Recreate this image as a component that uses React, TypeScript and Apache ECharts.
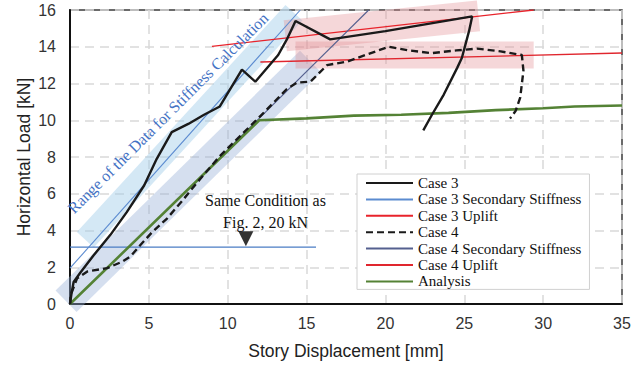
import React, { useEffect, useRef } from "react";
import * as echarts from "echarts";

// ---- data ----
const case3X = [0, 0.1, 0.23, 0.65, 1.5, 2.55, 3.6, 4.7, 5.5, 6.45, 7.5, 8.5, 9.5, 10.9, 11.75, 13.2, 13.75, 14.3, 16.5, 20, 25.5, 25.3, 24.85, 24.55, 23.7, 22.95, 22.4];
const case3Y = [0, 0.6, 1.2, 1.7, 2.65, 3.75, 5.0, 6.45, 7.9, 9.35, 9.8, 10.3, 10.75, 12.75, 12.1, 13.55, 14.4, 15.4, 14.4, 14.85, 15.65, 14.85, 13.4, 12.85, 11.4, 10.3, 9.45];

const case4X = [0, 0.05, 0.45, 1.1, 2.35, 3.3, 3.85, 4.45, 5.2, 6.15, 7.1, 8.05, 9.5, 10.8, 12.1, 13.75, 14.4, 15.25, 16.3, 17.6, 20.2, 21.5, 22.9, 24.5, 25.8, 27.3, 28.65, 28.75, 28.55, 28.25, 27.9];
const case4Y = [0, 0.5, 1.4, 1.77, 1.95, 2.3, 2.6, 3.2, 3.9, 4.65, 5.6, 6.6, 8.05, 9.15, 10.25, 11.7, 12.05, 12.1, 13.0, 13.2, 14.0, 13.8, 13.65, 13.8, 13.9, 13.75, 13.55, 12.7, 11.25, 10.5, 10.1];

const analysisX = [0, 12, 15, 18, 21, 24, 27, 30, 32, 35];
const analysisY = [0, 10, 10.1, 10.25, 10.3, 10.4, 10.55, 10.65, 10.75, 10.8];

const case3StiffX = [0, 14.6];
const case3StiffY = [1.95, 16];
const case3UpliftX = [9.0, 29.4];
const case3UpliftY = [14.02, 16.0];
const case4StiffX = [10.3, 18.94];
const case4StiffY = [8.66, 16];
const case4UpliftX = [12.07, 35];
const case4UpliftY = [13.17, 13.66];

const refLineX = [0, 15.6];
const refLineY = [3.1, 3.1];
const refMarker = [11.15, 3.55];

// shaded ranges (centre lines)
const blueBandX = [0.97, 14.2];
const blueBandY = [3.5, 15.85];
const lavBandX = [-0.25, 15.25];
const lavBandY = [0.15, 13.2];
const pinkBand1X = [13.65, 25.9];
const pinkBand1Y = [14.6, 15.68];
const pinkBand2X = [14.3, 29.4];
const pinkBand2Y = [13.55, 13.55];

const xTicks = { min: 0, max: 35, interval: 5 };
const yTicks = { min: 0, max: 16, interval: 2 };

const legendNames = [
  "Case 3",
  "Case 3 Secondary Stiffness",
  "Case 3 Uplift",
  "Case 4",
  "Case 4 Secondary Stiffness",
  "Case 4 Uplift",
  "Analysis",
];

const zip = (xs: number[], ys: number[]) => xs.map((x, i) => [x, ys[i]]);

const SANS = "Liberation Sans";
const SERIF = "Liberation Serif";

export default function App() {
  const ref = useRef<HTMLDivElement>(null);
  useEffect(() => {
    if (!ref.current) return;
    const chart = echarts.init(ref.current, undefined, { renderer: "svg" });

    const band = (name: string, xs: number[], ys: number[], color: string, width: number, clip: boolean) => ({
      name,
      type: "line",
      data: zip(xs, ys),
      symbol: "none",
      silent: true,
      clip,
      z: 1,
      lineStyle: { color, width, cap: "butt" },
    });

    const line = (name: string, xs: number[], ys: number[], color: string, width: number, type: any = "solid", z = 3) => ({
      name,
      type: "line",
      data: zip(xs, ys),
      symbol: "none",
      z,
      itemStyle: { color },
      lineStyle: { color, width, type },
    });

    chart.setOption({
      animation: false,
      backgroundColor: "#fff",
      grid: {
        left: 70,
        right: 20,
        top: 10,
        bottom: 59,
        show: true,
        borderColor: "#3a3a3a",
        borderWidth: 1.5,
      },
      xAxis: {
        type: "value",
        ...xTicks,
        name: "Story Displacement [mm]",
        nameLocation: "middle",
        nameGap: 38,
        nameTextStyle: { fontFamily: SANS, fontSize: 17.5, color: "#222" },
        axisLine: { show: true, onZero: false, lineStyle: { color: "#111", width: 2 } },
        axisTick: { show: false },
        axisLabel: { fontFamily: SANS, fontSize: 16, color: "#333", margin: 11 },
        splitLine: { show: true, lineStyle: { color: "#d9d9d9", width: 1.5, type: [9, 6] } },
      },
      yAxis: {
        type: "value",
        ...yTicks,
        name: "Horizontal Load [kN]",
        nameLocation: "middle",
        nameGap: 37,
        nameMoveOverlap: false,
        nameTextStyle: { fontFamily: SANS, fontSize: 17.5, color: "#222" },
        axisLine: { show: true, onZero: false, lineStyle: { color: "#111", width: 2 } },
        axisTick: { show: false },
        axisLabel: { fontFamily: SANS, fontSize: 16, color: "#333", margin: 14 },
        splitLine: { show: true, lineStyle: { color: "#d9d9d9", width: 1.5, type: [9, 6] } },
      },
      legend: {
        data: legendNames,
        orient: "vertical",
        left: 357,
        top: 174,
        backgroundColor: "#fff",
        borderColor: "#d0d0d0",
        borderWidth: 1,
        padding: [1, 8, 0, 8],
        itemWidth: 47,
        itemHeight: 16,
        itemGap: 0.4,
        selectedMode: false,
        itemStyle: { color: "rgba(0,0,0,0)", borderWidth: 0, opacity: 0 },
        textStyle: { fontFamily: SERIF, fontSize: 15, color: "#111", lineHeight: 16 },
      },
      series: [
        band("blueBand", blueBandX, blueBandY, "rgba(160,205,232,0.45)", 23, false),
        band("lavBand", lavBandX, lavBandY, "rgba(150,175,215,0.4)", 30, false),
        band("pinkBand1", pinkBand1X, pinkBand1Y, "rgba(225,140,145,0.35)", 31, false),
        band("pinkBand2", pinkBand2X, pinkBand2Y, "rgba(225,140,145,0.35)", 27, false),
        {
          name: "refLine",
          type: "line",
          data: zip(refLineX, refLineY),
          symbol: "none",
          silent: true,
          z: 2,
          lineStyle: { color: "#4a7cc4", width: 1.2 },
        },
        {
          name: "refMarker",
          type: "scatter",
          data: [refMarker],
          symbol: "triangle",
          symbolRotate: 180,
          symbolSize: [15, 15],
          silent: true,
          z: 4,
          itemStyle: { color: "#000" },
        },
        line("Case 3 Secondary Stiffness", case3StiffX, case3StiffY, "#5b8bd0", 1.1),
        line("Case 3 Uplift", case3UpliftX, case3UpliftY, "#e8232b", 1.3),
        line("Case 4 Secondary Stiffness", case4StiffX, case4StiffY, "#55608f", 1.1),
        line("Case 4 Uplift", case4UpliftX, case4UpliftY, "#e0262e", 1.3),
        line("Analysis", analysisX, analysisY, "#548235", 2.6),
        line("Case 4", case4X, case4Y, "#1a1a1a", 2.4, [7, 4], 5),
        line("Case 3", case3X, case3Y, "#1a1a1a", 2.4, "solid", 6),
      ],
      graphic: [
        {
          type: "text",
          x: 168,
          y: 113,
          rotation: Math.PI / 4,
          z: 10,
          style: {
            text: "Range of the Data for Stiffness Calculation",
            fontFamily: SERIF,
            fontSize: 16,
            fill: "#4472c4",
            align: "center",
            verticalAlign: "middle",
          },
        },
        {
          type: "text",
          x: 265.5,
          y: 200,
          z: 10,
          style: {
            text: "Same Condition as",
            fontFamily: SERIF,
            fontSize: 16,
            fill: "#111",
            align: "center",
            verticalAlign: "middle",
          },
        },
        {
          type: "text",
          x: 265.5,
          y: 222,
          z: 10,
          style: {
            text: "Fig. 2, 20 kN",
            fontFamily: SERIF,
            fontSize: 16,
            fill: "#111",
            align: "center",
            verticalAlign: "middle",
          },
        },
      ],
    });
    return () => chart.dispose();
  }, []);

  return (
    <div
      ref={ref}
      style={{ position: "absolute", left: 0, top: 0, width: 642, height: 365 }}
    />
  );
}
